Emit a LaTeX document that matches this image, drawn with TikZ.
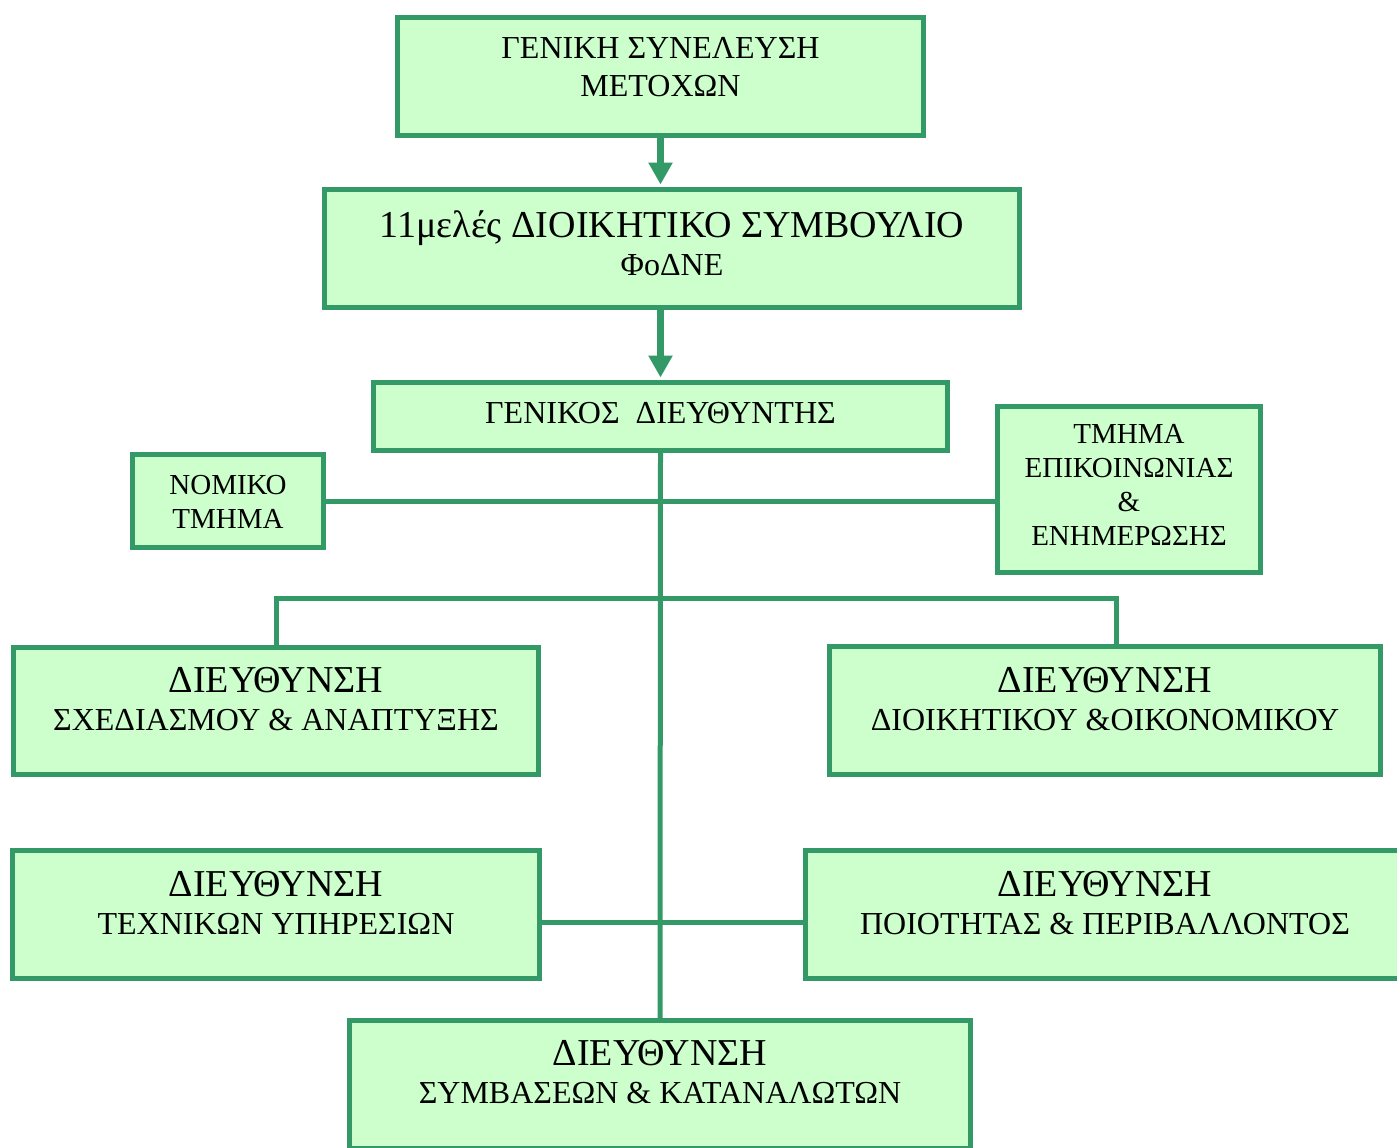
\documentclass[tikz,border=0pt]{standalone}
\usepackage{fontspec}
\setmainfont{Liberation Serif}
\usetikzlibrary{arrows.meta,calc}
\definecolor{orgline}{RGB}{51,153,102}
\definecolor{orgfill}{RGB}{204,255,204}
\newcommand{\dirfont}{\fontsize{19}{19}\selectfont}
\newcommand{\boxfont}{\fontsize{16}{19}\selectfont}
\newcommand{\deptfont}{\fontsize{14.5}{17}\selectfont}

\begin{document}
\begin{tikzpicture}[x=0.5pt,y=-0.5pt,
  box/.style={rectangle,draw=orgline,fill=orgfill,line width=2.5pt,inner sep=0pt},
  txt/.style={align=center,inner sep=0pt,anchor=north,font=\boxfont},
  link/.style={draw=orgline,line width=2.5pt},
  arr/.style={draw=orgline,line width=3.5pt,-{Triangle[width=11.5pt,length=11pt]},shorten >=1.25pt}]

  \clip (0,0) rectangle (1397,1147);

  \node[box,minimum width=263pt,minimum height=59pt] (gsm) at (660.5,76.5) {};
  \node[box,minimum width=347.5pt,minimum height=59pt] (ds) at (672,248.5) {};
  \node[box,minimum width=287pt,minimum height=34pt] (gd) at (660.5,416.5) {};
  \node[box,minimum width=95.5pt,minimum height=46.5pt] (nom) at (228,501) {};
  \node[box,minimum width=131.5pt,minimum height=83pt] (epik) at (1129,489.5) {};
  \node[box,minimum width=262.5pt,minimum height=63.5pt] (sxed) at (276,711) {};
  \node[box,minimum width=275.5pt,minimum height=64pt] (dioik) at (1105,710.5) {};
  \node[box,minimum width=263.5pt,minimum height=64pt] (texn) at (276,914.5) {};
  \node[box,minimum width=299.5pt,minimum height=64pt] (poiot) at (1105,914.5) {};
  \node[box,minimum width=310.5pt,minimum height=64pt] (symv) at (660,1084.5) {};

  \node[txt] (gsmt) at ($(gsm.north)+(0,21.5)$) {ΓΕΝΙΚΗ ΣΥΝΕΛΕΥΣΗ\\ΜΕΤΟΧΩΝ};
  \node[txt] (dst) at ($(ds.north)+(0,23.5)$) {{\dirfont 11μελές ΔΙΟΙΚΗΤΙΚΟ ΣΥΜΒΟΥΛΙΟ}\\ΦοΔΝΕ};
  \node[txt] (gdt) at ($(gd.north)+(0,22)$) {ΓΕΝΙΚΟΣ \ ΔΙΕΥΘΥΝΤΗΣ};
  \node[txt,anchor=center,font=\deptfont] (nomt) at ($(nom.center)+(0,1)$) {ΝΟΜΙΚΟ\\ΤΜΗΜΑ};
  \node[txt,font=\deptfont] (epikt) at ($(epik.north)+(0,20)$) {ΤΜΗΜΑ\\ΕΠΙΚΟΙΝΩΝΙΑΣ\\\&\\ΕΝΗΜΕΡΩΣΗΣ};
  \node[txt] (sxedt) at ($(sxed.north)+(0,21.5)$) {{\dirfont ΔΙΕΥΘΥΝΣΗ}\\ΣΧΕΔΙΑΣΜΟΥ \& ΑΝΑΠΤΥΞΗΣ};
  \node[txt] (dioikt) at ($(dioik.north)+(0,22.5)$) {{\dirfont ΔΙΕΥΘΥΝΣΗ}\\ΔΙΟΙΚΗΤΙΚΟΥ \&ΟΙΚΟΝΟΜΙΚΟΥ};
  \node[txt] (texnt) at ($(texn.north)+(0,22.5)$) {{\dirfont ΔΙΕΥΘΥΝΣΗ}\\ΤΕΧΝΙΚΩΝ ΥΠΗΡΕΣΙΩΝ};
  \node[txt] (poiott) at ($(poiot.north)+(0,22.5)$) {{\dirfont ΔΙΕΥΘΥΝΣΗ}\\ΠΟΙΟΤΗΤΑΣ \& ΠΕΡΙΒΑΛΛΟΝΤΟΣ};
  \node[txt] (symvt) at ($(symv.north)+(0,21.5)$) {{\dirfont ΔΙΕΥΘΥΝΣΗ}\\ΣΥΜΒΑΣΕΩΝ \& ΚΑΤΑΝΑΛΩΤΩΝ};

  \coordinate (brR) at (1116,598);
  \coordinate (tpY) at (0,922);

  \draw[arr] (gsm.south) -- (gsm.south |- ds.north);
  \draw[arr] (gd.north |- ds.south) -- (gd.north);
  \draw[link] (gd.south) -- (symv.north);
  \draw[link] (nom.east) -- (nom.east -| epik.west);
  \draw[link] (sxed.north) |- (brR) -- (brR |- dioik.north);
  \draw[link] (texn.east |- tpY) -- (poiot.west |- tpY);

\end{tikzpicture}
\end{document}
